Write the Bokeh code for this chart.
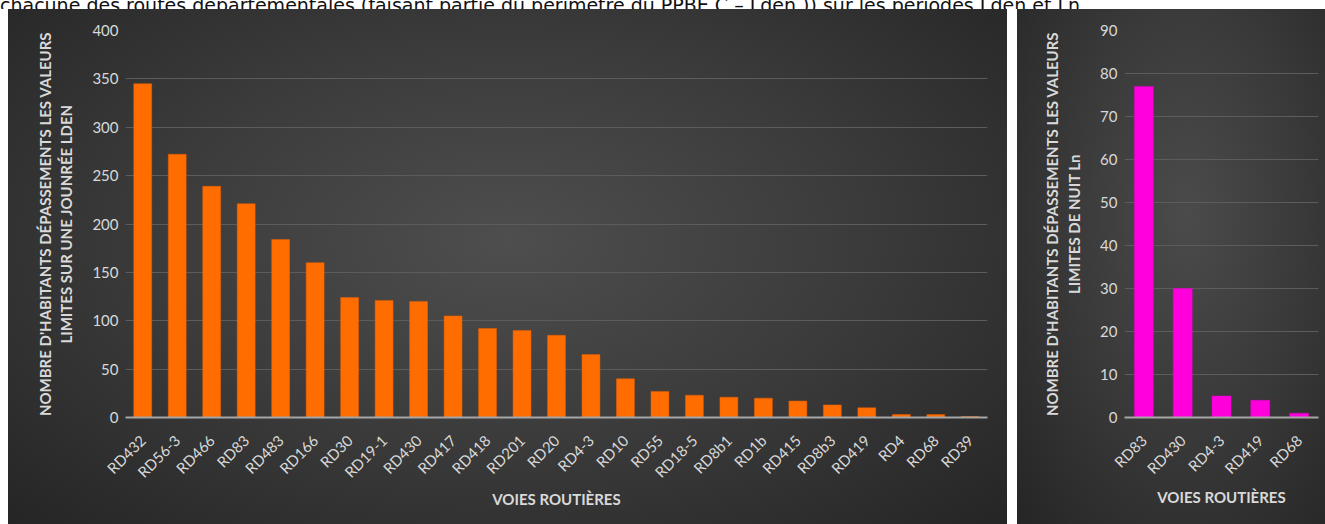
import math
from bokeh.plotting import figure
from bokeh.models import Div, FactorRange, Range1d
from bokeh.layouts import row, column
from bokeh.embed import file_html
from bokeh.resources import INLINE

caption = "chacune des routes départementales (faisant partie du périmètre du PPBE C – Lden.)) sur les périodes Lden et Ln."

lden_roads = ["RD432", "RD56-3", "RD466", "RD83", "RD483", "RD166", "RD30", "RD19-1",
              "RD430", "RD417", "RD418", "RD201", "RD20", "RD4-3", "RD10", "RD55",
              "RD18-5", "RD8b1", "RD1b", "RD415", "RD8b3", "RD419", "RD4", "RD68", "RD39"]
lden_values = [345, 272, 239, 221, 184, 160, 124, 121, 120, 105, 92, 90, 85, 65, 40, 27,
               23, 21, 20, 17, 13, 10, 3, 3, 1]
lden_ticks = [0, 50, 100, 150, 200, 250, 300, 350, 400]

ln_roads = ["RD83", "RD430", "RD4-3", "RD419", "RD68"]
ln_values = [77, 30, 5, 4, 1]
ln_ticks = [0, 10, 20, 30, 40, 50, 60, 70, 80, 90]

x_title = "VOIES ROUTIÈRES"
lden_ytitle = "NOMBRE D'HABITANTS DÉPASSEMENTS LES VALEURS\nLIMITES SUR UNE JOUNRÉE LDEN"
ln_ytitle = "NOMBRE D'HABITANTS DÉPASSEMENTS LES VALEURS\nLIMITES DE NUIT Ln"

FONT = "Lato"
TXT = "#d9d9d9"


def style(p, ticks, ytitle, xstand):
    p.background_fill_color = None
    p.border_fill_color = None
    p.outline_line_color = None
    p.xgrid.grid_line_color = None
    p.ygrid.grid_line_color = "#5c5c5c"
    p.ygrid.grid_line_width = 1
    p.yaxis.ticker = ticks
    for ax in (p.xaxis[0], p.yaxis[0]):
        ax.major_tick_line_color = None
        ax.minor_tick_line_color = None
        ax.major_tick_out = 0
        ax.major_tick_in = 0
        ax.minor_tick_out = 0
        ax.minor_tick_in = 0
        ax.major_label_text_color = TXT
        ax.major_label_text_font = FONT
        ax.major_label_text_font_size = "15px"
        ax.axis_label_text_color = TXT
        ax.axis_label_text_font = FONT
        ax.axis_label_text_font_style = "bold"
        ax.axis_label_text_font_size = "15px"
    p.yaxis.axis_line_color = None
    p.yaxis.major_label_standoff = 7
    p.yaxis.axis_label = ytitle
    p.yaxis.axis_label_standoff = 14
    p.xaxis.axis_line_color = "#a6a6a6"
    p.xaxis.axis_line_width = 2
    p.xaxis.major_label_orientation = math.pi / 4
    p.xaxis.major_label_standoff = 20
    p.xaxis.axis_label = x_title
    p.xaxis.axis_label_standoff = xstand


p1 = figure(x_range=FactorRange(*lden_roads), y_range=Range1d(0, 400),
            width=999, height=515, output_backend="svg", toolbar_location=None,
            min_border_left=117, min_border_right=20, min_border_top=21, min_border_bottom=107,
            styles={"background": "radial-gradient(ellipse at 50% 45%, #4e4e4e 0%, #3b3b3b 50%, #252525 100%)"})
p1.vbar(x=lden_roads, top=lden_values, width=0.52, fill_color="#ff6d00", line_color="#e85f00", line_width=0.5)
style(p1, lden_ticks, lden_ytitle, 0)
p1.margin = (0, 0, 0, 8)

p2 = figure(x_range=FactorRange(*ln_roads), y_range=Range1d(0, 90),
            width=308, height=515, output_backend="svg", toolbar_location=None,
            min_border_left=107, min_border_right=7, min_border_top=21, min_border_bottom=103,
            styles={"background": "radial-gradient(ellipse at 55% 40%, #4b4b4b 0%, #393939 50%, #252525 100%)"})
p2.vbar(x=ln_roads, top=ln_values, width=0.49, fill_color="#ff00dd", line_color="#e000c4", line_width=0.5)
style(p2, ln_ticks, ln_ytitle, 2)
p2.margin = (0, 0, 0, 10)

top = Div(text=f"<div style='white-space:nowrap;font-family:\"DejaVu Sans\";font-size:19px;color:#111;margin-top:-13px;line-height:20px'>{caption}</div>",
          width=1325, height=9, margin=0, styles={"overflow": "hidden"})

layout = column(top, row(p1, p2), spacing=0)
open("out.html", "w").write(file_html(layout, INLINE))
